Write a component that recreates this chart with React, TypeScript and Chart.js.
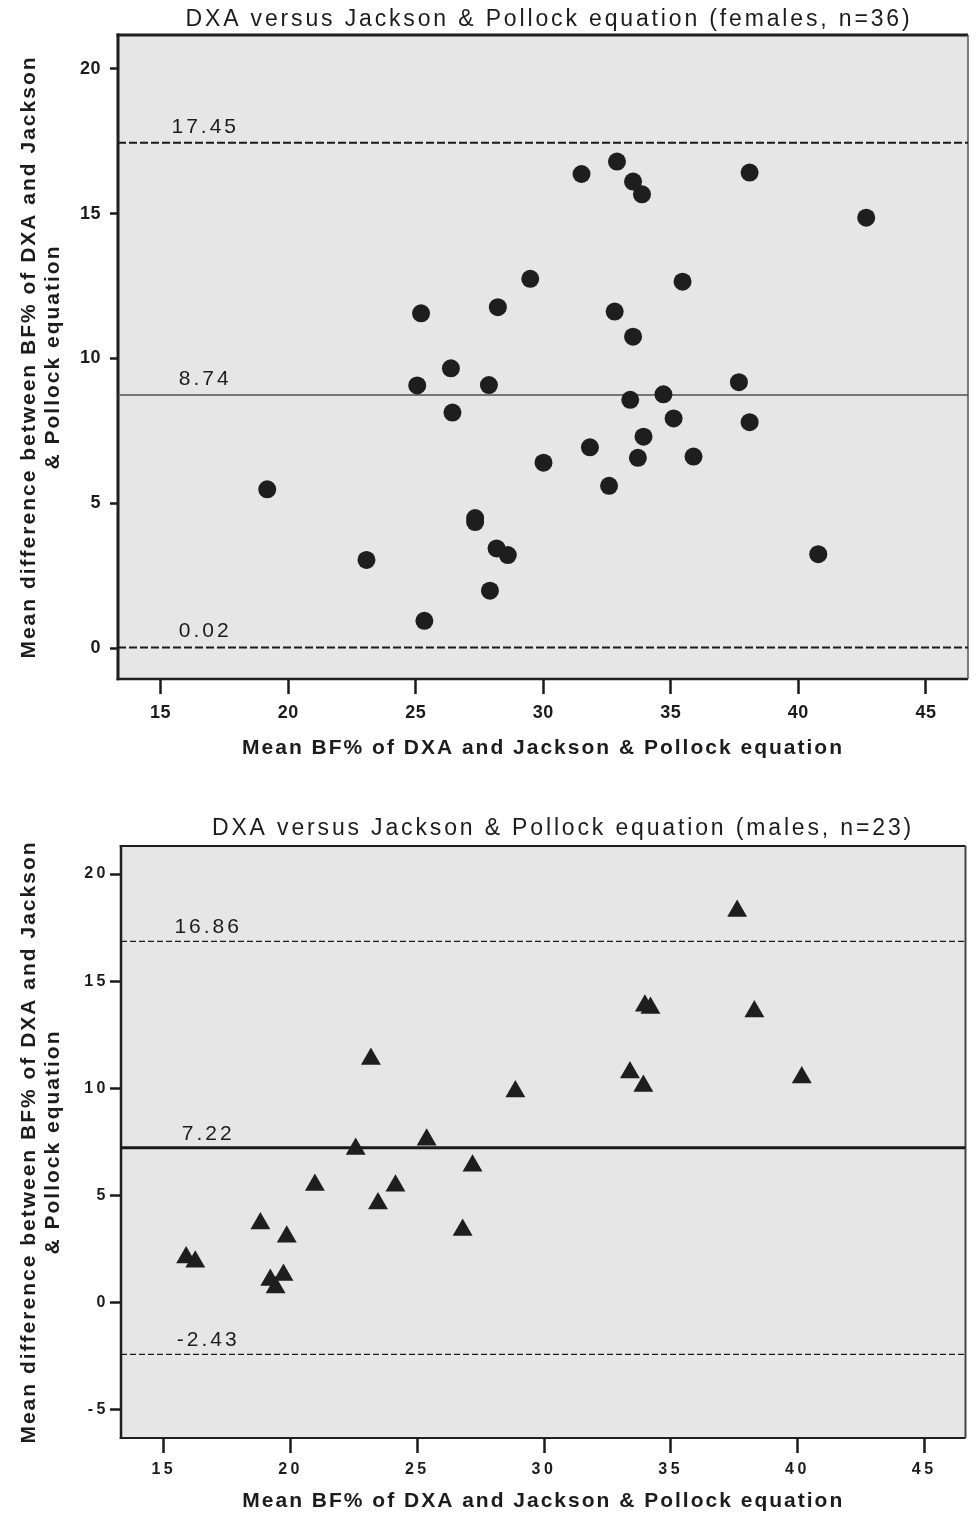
import React, { useEffect, useRef } from 'react';
import { Chart, registerables } from 'chart.js';

Chart.register(...registerables);

// ---------------- data ----------------
const X_TICKS = [15, 20, 25, 30, 35, 40, 45];
const FEMALE_Y_TICKS = [0, 5, 10, 15, 20];
const MALE_Y_TICKS = [-5, 0, 5, 10, 15, 20];

const FEMALE_TITLE = 'DXA versus Jackson & Pollock equation (females, n=36)';
const MALE_TITLE = 'DXA versus Jackson & Pollock equation (males, n=23)';
const X_TITLE = 'Mean BF% of DXA and Jackson & Pollock equation';
const Y_TITLE = ['Mean difference between BF% of DXA and Jackson', '& Pollock equation'];

// upper limit, mean difference, lower limit
const FEMALE_LIMITS = [17.45, 8.74, 0.02];
const MALE_LIMITS = [16.86, 7.22, -2.43];

const FEMALE_MEAN_BF = [
  19.18, 23.07, 25.21, 25.06, 25.34, 26.38, 26.44, 27.33, 27.33, 27.87,
  27.91, 28.17, 28.22, 28.61, 29.49, 30.01, 31.5, 31.83, 32.58, 32.8,
  32.89, 33.41, 33.52, 33.52, 33.71, 33.87, 33.93, 34.71, 35.11, 35.46,
  35.89, 37.67, 38.09, 38.09, 40.78, 42.66,
];
const FEMALE_DIFF = [
  5.48, 3.04, 11.56, 9.07, 0.94, 9.66, 8.13, 4.49, 4.35, 9.08,
  1.98, 3.44, 11.77, 3.21, 12.75, 6.4, 16.37, 6.93, 5.6, 11.62,
  16.8, 8.57, 16.11, 10.75, 6.57, 15.67, 7.3, 8.76, 7.93, 12.65,
  6.61, 9.18, 16.42, 7.8, 3.24, 14.86,
];

const MALE_MEAN_BF = [
  15.88, 16.24, 18.81, 19.2, 19.41, 19.72, 19.85, 20.96, 22.57, 23.17,
  23.45, 24.14, 25.37, 26.79, 27.18, 28.87, 33.39, 33.92, 33.98, 34.2,
  37.62, 38.3, 40.17,
];
const MALE_DIFF = [
  2.1, 1.9, 3.69, 1.05, 0.7, 1.28, 3.07, 5.48, 7.16, 11.36,
  4.62, 5.45, 7.59, 3.38, 6.38, 9.85, 10.73, 10.11, 13.85, 13.75,
  18.28, 13.58, 10.5,
];

// ---------------- styles ----------------
const TEXT = '#1c1c1c';
const SANS = '"Liberation Sans", Arial, sans-serif';

const FEMALE_PANEL = {
  top: 0,
  height: 775,
  area: { left: 118, top: 35, right: 974, bottom: 679 },
  xMin: 13.33, xMax: 46.65, yMin: -1.07, yMax: 21.17,
  yTicks: FEMALE_Y_TICKS,
  xs: FEMALE_MEAN_BF, ys: FEMALE_DIFF, limits: FEMALE_LIMITS,
  pointStyle: 'circle', pointRadius: 9,
  title: FEMALE_TITLE, titleX: 549, titleY: 20,
  titleFont: 'normal 23px ' + SANS, titleSpacing: '2.85px',
  meanColor: '#505050', meanWidth: 1.5, dashColor: '#1a1a1a', dashWidth: 2, dash: [8, 3],
  xTickLen: 15, yTickLen: 8, xTickPad: 8, yTickPad: 9,
  tickFont: { family: SANS, size: 18, weight: 'bold' },
  tickSpacing: '0.5px',
  axisTitleFont: { family: SANS, size: 21, weight: 'bold', lineHeight: 1.15 },
  axisTitleSpacing: '2px',
  xTitlePad: 15, yTitlePad: 17,
  labelX: 16.75, labelLift: 10,
  labelFont: 'normal 21px ' + SANS, labelSpacing: '3px',
  frame: { left: 3, top: 3, right: 1.5, bottom: 2.5, color: '#1e1e1e', rightColor: '#555' },
  bg: '#e6e6e6',
};

const MALE_PANEL = {
  top: 775,
  height: 740,
  area: { left: 121, top: 71, right: 975, bottom: 663 },
  xMin: 13.31, xMax: 46.63, yMin: -6.33, yMax: 21.31,
  yTicks: MALE_Y_TICKS,
  xs: MALE_MEAN_BF, ys: MALE_DIFF, limits: MALE_LIMITS,
  pointStyle: 'triangle', pointRadius: 11.5,
  title: MALE_TITLE, titleX: 563, titleY: 54,
  titleFont: 'normal 23px ' + SANS, titleSpacing: '2.85px',
  meanColor: '#1a1a1a', meanWidth: 3, dashColor: '#1a1a1a', dashWidth: 1.2, dash: [6, 3],
  xTickLen: 15, yTickLen: 11, xTickPad: 7, yTickPad: 1,
  tickFont: { family: SANS, size: 16, weight: 'bold' },
  tickSpacing: '3.5px',
  axisTitleFont: { family: SANS, size: 21, weight: 'bold', lineHeight: 1.15 },
  axisTitleSpacing: '2px',
  xTitlePad: 2, yTitlePad: 17,
  labelX: 16.75, labelLift: 8,
  labelFont: 'normal 21px ' + SANS, labelSpacing: '3px',
  frame: { left: 2.5, top: 2, right: 2, bottom: 2, color: '#1e1e1e', rightColor: '#444' },
  bg: '#e6e6e6',
};

function panelPlugin(p: any) {
  return {
    id: 'panelDecor',
    beforeDraw(chart: any) {
      const { ctx, chartArea: a } = chart;
      ctx.save();
      ctx.fillStyle = p.bg;
      ctx.fillRect(a.left, a.top, a.right - a.left, a.bottom - a.top);
      ctx.restore();
      try { ctx.letterSpacing = p.axisTitleSpacing; } catch (e) {}
    },
    beforeDatasetsDraw(chart: any) {
      const { ctx, chartArea: a } = chart;
      const f = p.frame;
      ctx.save();
      ctx.strokeStyle = f.color;
      ctx.lineWidth = f.top;
      ctx.beginPath(); ctx.moveTo(a.left - f.left / 2, a.top); ctx.lineTo(a.right, a.top); ctx.stroke();
      ctx.lineWidth = f.bottom;
      ctx.beginPath(); ctx.moveTo(a.left - f.left / 2, a.bottom); ctx.lineTo(a.right, a.bottom); ctx.stroke();
      ctx.lineWidth = f.left;
      ctx.beginPath(); ctx.moveTo(a.left, a.top - f.top / 2); ctx.lineTo(a.left, a.bottom + f.bottom / 2); ctx.stroke();
      ctx.strokeStyle = f.rightColor;
      ctx.lineWidth = f.right;
      ctx.beginPath(); ctx.moveTo(a.right, a.top); ctx.lineTo(a.right, a.bottom); ctx.stroke();
      ctx.restore();
    },
    afterDatasetsDraw(chart: any) {
      try { chart.ctx.letterSpacing = p.tickSpacing; } catch (e) {}
    },
    afterDraw(chart: any) {
      const { ctx } = chart;
      try { ctx.letterSpacing = '0px'; } catch (e) {}
      const xs = chart.scales.x;
      const ys = chart.scales.y;
      ctx.save();
      ctx.fillStyle = TEXT;
      // limit labels
      ctx.font = p.labelFont;
      try { ctx.letterSpacing = p.labelSpacing; } catch (e) {}
      ctx.textAlign = 'center';
      ctx.textBaseline = 'alphabetic';
      p.limits.forEach((v: number) => {
        const x = xs.getPixelForValue(p.labelX);
        const y = ys.getPixelForValue(v) - p.labelLift;
        ctx.fillText(v.toFixed(2), x, y);
      });
      // chart title
      ctx.font = p.titleFont;
      try { ctx.letterSpacing = p.titleSpacing; } catch (e) {}
      ctx.textBaseline = 'middle';
      ctx.fillText(p.title, p.titleX, p.titleY);
      ctx.restore();
      try { ctx.letterSpacing = '0px'; } catch (e) {}
    },
  };
}

function buildConfig(p: any) {
  const points = p.xs.map((x: number, i: number) => ({ x, y: p.ys[i] }));
  const lineSets = p.limits.map((v: number, i: number) => ({
    label: 'limit' + i,
    data: [{ x: p.xMin, y: v }, { x: p.xMax, y: v }],
    showLine: true,
    borderColor: i === 1 ? p.meanColor : p.dashColor,
    borderWidth: i === 1 ? p.meanWidth : p.dashWidth,
    borderDash: i === 1 ? [] : p.dash,
    pointRadius: 0,
    pointHoverRadius: 0,
    order: 2,
  }));
  return {
    type: 'scatter',
    data: {
      datasets: [
        ...lineSets,
        {
          label: 'points',
          data: points,
          pointStyle: p.pointStyle,
          pointRadius: p.pointRadius,
          pointHoverRadius: p.pointRadius,
          backgroundColor: '#1e1e1e',
          borderColor: '#1e1e1e',
          borderWidth: 0,
          order: 1,
        },
      ],
    },
    options: {
      animation: false,
      responsive: false,
      devicePixelRatio: 1,
      events: [],
      layout: { padding: { left: 0, top: p.area.top, right: 977 - p.area.right, bottom: 0 } },
      plugins: { legend: { display: false }, tooltip: { enabled: false }, title: { display: false } },
      scales: {
        x: {
          type: 'linear',
          position: 'bottom',
          min: p.xMin,
          max: p.xMax,
          afterFit: (s: any) => { s.height = p.height - p.area.bottom; },
          afterBuildTicks: (s: any) => { s.ticks = X_TICKS.map((v) => ({ value: v })); },
          grid: { display: true, drawOnChartArea: false, drawTicks: true, tickLength: p.xTickLen, tickWidth: 2.5, tickColor: '#1a1a1a' },
          border: { display: false },
          ticks: { padding: p.xTickPad, color: TEXT, font: p.tickFont, z: 1, maxRotation: 0, autoSkip: false, callback: (v: number) => String(v) },
          title: { display: true, text: X_TITLE, color: TEXT, font: p.axisTitleFont, padding: { top: 0, bottom: p.xTitlePad } },
        },
        y: {
          type: 'linear',
          position: 'left',
          min: p.yMin,
          max: p.yMax,
          afterFit: (s: any) => { s.width = p.area.left; },
          afterBuildTicks: (s: any) => { s.ticks = p.yTicks.map((v: number) => ({ value: v })); },
          grid: { display: true, drawOnChartArea: false, drawTicks: true, tickLength: p.yTickLen, tickWidth: 2.5, tickColor: '#1a1a1a' },
          border: { display: false },
          ticks: { padding: p.yTickPad, color: TEXT, font: p.tickFont, z: 1, callback: (v: number) => String(v) },
          title: { display: true, text: Y_TITLE, color: TEXT, font: p.axisTitleFont, padding: { top: p.yTitlePad, bottom: 0 } },
        },
      },
    },
    plugins: [panelPlugin(p)],
  };
}

function Panel({ panel }: { panel: any }) {
  const ref = useRef<HTMLCanvasElement>(null);
  useEffect(() => {
    const chart = new Chart(ref.current as HTMLCanvasElement, buildConfig(panel) as any);
    return () => chart.destroy();
  }, [panel]);
  return (
    <canvas
      ref={ref}
      width={977}
      height={panel.height}
      style={{ position: 'absolute', left: 0, top: panel.top, width: 977, height: panel.height, display: 'block' }}
    />
  );
}

export default function App() {
  return (
    <div style={{ position: 'absolute', left: 0, top: 0, width: 977, height: 1515, background: '#ffffff', overflow: 'hidden' }}>
      <Panel panel={FEMALE_PANEL} />
      <Panel panel={MALE_PANEL} />
    </div>
  );
}
